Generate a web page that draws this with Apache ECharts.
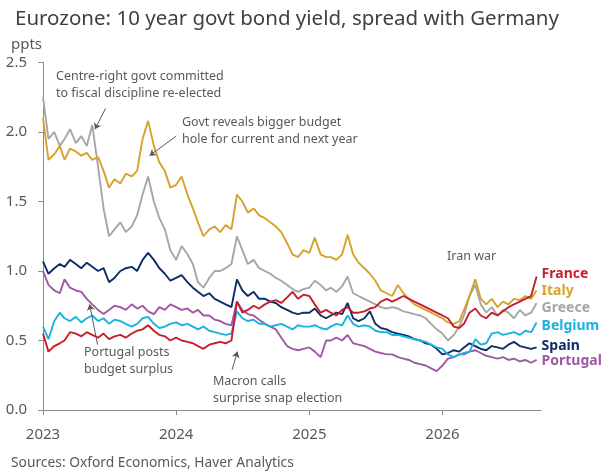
<!DOCTYPE html>
<html lang="en">
<head>
<meta charset="UTF-8" />
<title>Eurozone: 10 year govt bond yield, spread with Germany</title>
<style>
	html, body { margin: 0; padding: 0; background: #fff; }
	#chart { width: 611px; height: 474px; }
</style>
</head>
<body>
<div id="chart"></div>
<script src="https://cdn.jsdelivr.net/npm/echarts@6/dist/echarts.min.js"></script>
<script>
// observations on the 1st and 16th of each month, Jan 2023 - Sep 2026
let dates = [];
for (let y = 2023; y <= 2026; y++) {
	for (let m = 1; m <= 12; m++) {
		if (y === 2026 && m > 9) break;
		let mm = String(m).padStart(2, "0");
		dates.push(y + "-" + mm + "-01");
		dates.push(y + "-" + mm + "-16");
	}
}

// spreads over Bunds, ppts
let france = [
	0.55, 0.42, 0.46, 0.48, 0.50, 0.56, 0.55, 0.53, 0.56, 0.54, 0.52, 0.55, 0.51, 0.53, 0.54, 0.52, 0.55, 0.57, 0.58, 0.61, 0.57, 0.54, 0.53, 0.50,
	0.52, 0.50, 0.49, 0.48, 0.46, 0.44, 0.47, 0.48, 0.49, 0.48, 0.50, 0.78, 0.70, 0.72, 0.75, 0.73, 0.76, 0.78, 0.79, 0.77, 0.81, 0.85, 0.80, 0.83,
	0.82, 0.76, 0.70, 0.72, 0.70, 0.68, 0.72, 0.74, 0.70, 0.70, 0.71, 0.73, 0.74, 0.78, 0.80, 0.78, 0.80, 0.82, 0.80, 0.78, 0.76, 0.74, 0.72, 0.70,
	0.68, 0.66, 0.60, 0.59, 0.62, 0.70, 0.73, 0.68, 0.66, 0.70, 0.68, 0.71, 0.74, 0.76, 0.78, 0.80, 0.82, 0.96
];
let italy = [
	2.10, 1.80, 1.84, 1.90, 1.80, 1.88, 1.86, 1.83, 1.85, 1.80, 1.82, 1.72, 1.60, 1.66, 1.63, 1.70, 1.68, 1.72, 1.95, 2.08, 1.90, 1.78, 1.72, 1.60,
	1.62, 1.68, 1.55, 1.45, 1.35, 1.25, 1.30, 1.32, 1.28, 1.33, 1.30, 1.55, 1.50, 1.42, 1.45, 1.40, 1.38, 1.35, 1.32, 1.28, 1.20, 1.12, 1.10, 1.15,
	1.13, 1.24, 1.12, 1.10, 1.10, 1.08, 1.12, 1.26, 1.12, 1.06, 1.02, 0.98, 0.93, 0.86, 0.84, 0.82, 0.90, 0.84, 0.80, 0.76, 0.74, 0.72, 0.70, 0.68,
	0.66, 0.63, 0.62, 0.64, 0.72, 0.82, 0.94, 0.80, 0.76, 0.80, 0.74, 0.78, 0.76, 0.80, 0.79, 0.82, 0.80, 0.86
];
let greece = [
	2.25, 1.95, 2.00, 1.90, 1.95, 2.02, 1.92, 1.97, 1.90, 2.05, 1.75, 1.45, 1.25, 1.30, 1.35, 1.28, 1.32, 1.40, 1.55, 1.68, 1.50, 1.38, 1.30, 1.15,
	1.08, 1.18, 1.12, 1.05, 0.92, 0.88, 0.95, 1.00, 1.00, 1.02, 1.05, 1.25, 1.15, 1.05, 1.08, 1.02, 1.00, 0.98, 0.95, 0.93, 0.90, 0.87, 0.85, 0.87,
	0.88, 0.93, 0.90, 0.86, 0.88, 0.85, 0.89, 0.96, 0.84, 0.82, 0.80, 0.78, 0.76, 0.74, 0.73, 0.74, 0.73, 0.71, 0.70, 0.69, 0.68, 0.66, 0.62, 0.58,
	0.55, 0.50, 0.54, 0.60, 0.68, 0.82, 0.90, 0.76, 0.70, 0.74, 0.68, 0.72, 0.70, 0.66, 0.72, 0.68, 0.70, 0.77
];
let belgium = [
	0.60, 0.51, 0.64, 0.70, 0.66, 0.64, 0.67, 0.63, 0.66, 0.68, 0.64, 0.66, 0.62, 0.65, 0.64, 0.62, 0.60, 0.62, 0.66, 0.67, 0.62, 0.59, 0.60, 0.62,
	0.63, 0.61, 0.62, 0.60, 0.58, 0.60, 0.57, 0.56, 0.55, 0.54, 0.55, 0.71, 0.66, 0.64, 0.65, 0.62, 0.62, 0.60, 0.61, 0.62, 0.60, 0.58, 0.61, 0.60,
	0.60, 0.61, 0.59, 0.58, 0.60, 0.62, 0.61, 0.68, 0.62, 0.60, 0.61, 0.60, 0.57, 0.56, 0.56, 0.54, 0.54, 0.53, 0.52, 0.51, 0.50, 0.49, 0.47, 0.45,
	0.44, 0.40, 0.38, 0.40, 0.41, 0.42, 0.51, 0.47, 0.48, 0.55, 0.56, 0.54, 0.55, 0.56, 0.54, 0.57, 0.56, 0.63
];
let spain = [
	1.07, 0.98, 1.02, 1.05, 1.03, 1.08, 1.05, 1.02, 1.06, 1.03, 1.00, 1.02, 0.92, 0.95, 1.00, 1.02, 1.03, 1.00, 1.08, 1.13, 1.08, 1.02, 0.98, 0.93,
	0.95, 0.97, 0.92, 0.88, 0.85, 0.82, 0.84, 0.80, 0.78, 0.76, 0.74, 0.94, 0.86, 0.82, 0.85, 0.80, 0.80, 0.78, 0.77, 0.74, 0.72, 0.70, 0.69, 0.70,
	0.70, 0.73, 0.68, 0.66, 0.68, 0.70, 0.69, 0.77, 0.66, 0.64, 0.66, 0.71, 0.62, 0.59, 0.58, 0.56, 0.55, 0.54, 0.53, 0.51, 0.50, 0.48, 0.47, 0.44,
	0.40, 0.41, 0.43, 0.42, 0.45, 0.48, 0.46, 0.44, 0.43, 0.46, 0.45, 0.44, 0.47, 0.49, 0.46, 0.45, 0.44, 0.45
];
let portugal = [
	1.00, 0.90, 0.86, 0.84, 0.94, 0.88, 0.86, 0.85, 0.80, 0.76, 0.72, 0.69, 0.72, 0.75, 0.74, 0.72, 0.76, 0.73, 0.75, 0.71, 0.69, 0.74, 0.72, 0.76,
	0.74, 0.72, 0.73, 0.70, 0.72, 0.68, 0.68, 0.65, 0.64, 0.62, 0.61, 0.78, 0.72, 0.69, 0.68, 0.65, 0.62, 0.60, 0.58, 0.52, 0.46, 0.44, 0.43, 0.44,
	0.45, 0.42, 0.38, 0.50, 0.50, 0.52, 0.50, 0.54, 0.48, 0.47, 0.46, 0.44, 0.42, 0.41, 0.40, 0.40, 0.38, 0.37, 0.36, 0.34, 0.33, 0.32, 0.30, 0.28,
	0.32, 0.37, 0.38, 0.40, 0.40, 0.42, 0.43, 0.41, 0.39, 0.38, 0.37, 0.38, 0.36, 0.37, 0.35, 0.36, 0.34, 0.36
];

let yearTicks = [2023, 2024, 2025, 2026];

// annotation arrows, [from, to] in (year, ppts)
let arrows = [
	[[2023.47, 2.17], [2023.39, 2.02]],
	[[2024.0, 1.97], [2023.8, 1.83]],
	[[2023.41, 0.47], [2023.35, 0.76]],
	[[2024.42, 0.29], [2024.46, 0.42]]
];

// date string -> decimal year
function toYear(d) {
	let t = new Date(d + "T00:00:00Z");
	let y = t.getUTCFullYear();
	let start = Date.UTC(y, 0, 1);
	let end = Date.UTC(y + 1, 0, 1);
	return y + (t - start) / (end - start);
}

window.onload = function () {
	let chart = echarts.init(document.getElementById("chart"));
	let font = "'Noto Sans', 'Open Sans', sans-serif";
	let txt = "#595959";

	function mk(name, values, color, dy) {
		return {
			name: name,
			type: "line",
			showSymbol: false,
			data: values.map(function (v, i) {
				return [toYear(dates[i]), v];
			}),
			lineStyle: { color: color, width: 1.9 },
			itemStyle: { color: color },
			endLabel: {
				show: true,
				formatter: name,
				color: color,
				fontFamily: font,
				fontSize: 14,
				fontWeight: "bold",
				distance: 5,
				offset: [0, dy],
			},
			animation: false,
			silent: true,
		};
	}

	let series = [
		mk("Portugal", portugal, "#9e58a5", 1),
		mk("Spain", spain, "#0d2d66", -1),
		mk("Belgium", belgium, "#1ab2e0", 4),
		mk("Greece", greece, "#a6a6a6", 5),
		mk("Italy", italy, "#d6a32a", 1),
		mk("France", france, "#c81e2b", -3),
	];
	// arrows hang off the first series
	series[0].markLine = {
		silent: true,
		symbol: ["none", "arrow"],
		symbolSize: 6,
		label: { show: false },
		lineStyle: { color: txt, width: 1, type: "solid" },
		data: arrows.map(function (a) {
			return [{ coord: a[0] }, { coord: a[1] }];
		}),
		animation: false,
	};

	let option = {
		animation: false,
		title: {
			text: "Eurozone: 10 year govt bond yield, spread with Germany",
			left: 10,
			top: 4,
			textStyle: { fontFamily: font, fontSize: 20.5, fontWeight: "normal", color: "#404040" },
		},
		grid: { left: 43, right: 70, top: 62.5, bottom: 64 },
		xAxis: {
			type: "value",
			min: 2023,
			max: 2026.74,
			interval: 1,
			axisLine: { lineStyle: { color: "#8c8c8c" } },
			axisTick: { show: true, length: 5, lineStyle: { color: "#8c8c8c" } },
			splitLine: { show: false },
			axisLabel: {
				color: txt,
				fontFamily: font,
				fontSize: 15,
				margin: 17,
				showMaxLabel: false,
				formatter: function (v) {
					return yearTicks.indexOf(v) >= 0 ? String(v) : "";
				},
			},
		},
		yAxis: {
			type: "value",
			min: 0,
			max: 2.5,
			interval: 0.5,
			axisLine: { show: true, lineStyle: { color: "#8c8c8c" } },
			axisTick: { show: true, length: 5, lineStyle: { color: "#8c8c8c" } },
			splitLine: { show: false },
			axisLabel: {
				color: txt,
				fontFamily: font,
				fontSize: 15,
				margin: 16,
				formatter: function (v) {
					return v.toFixed(1);
				},
			},
		},
		graphic: [
			{ type: "text", left: 11, top: 37, style: { text: "ppts", fontFamily: font, fontSize: 15, fill: txt } },
			{ type: "text", left: 56, top: 68, style: { text: "Centre-right govt committed\nto fiscal discipline re-elected", fontFamily: font, fontSize: 12.5, lineHeight: 17, fill: txt } },
			{ type: "text", left: 182, top: 114, style: { text: "Govt reveals bigger budget\nhole for current and next year", fontFamily: font, fontSize: 12.5, lineHeight: 17, fill: txt } },
			{ type: "text", left: 447, top: 250, style: { text: "Iran war", fontFamily: font, fontSize: 12.5, fill: txt } },
			{ type: "text", left: 84, top: 344, style: { text: "Portugal posts\nbudget surplus", fontFamily: font, fontSize: 12.5, lineHeight: 17, fill: txt } },
			{ type: "text", left: 213, top: 373, style: { text: "Macron calls\nsurprise snap election", fontFamily: font, fontSize: 12.5, lineHeight: 17, fill: txt } },
			{ type: "text", left: 11, top: 456, style: { text: "Sources: Oxford Economics, Haver Analytics", fontFamily: font, fontSize: 13.8, fill: txt } },
		],
		series: series,
	};
	chart.setOption(option);
};
</script>
</body>
</html>
